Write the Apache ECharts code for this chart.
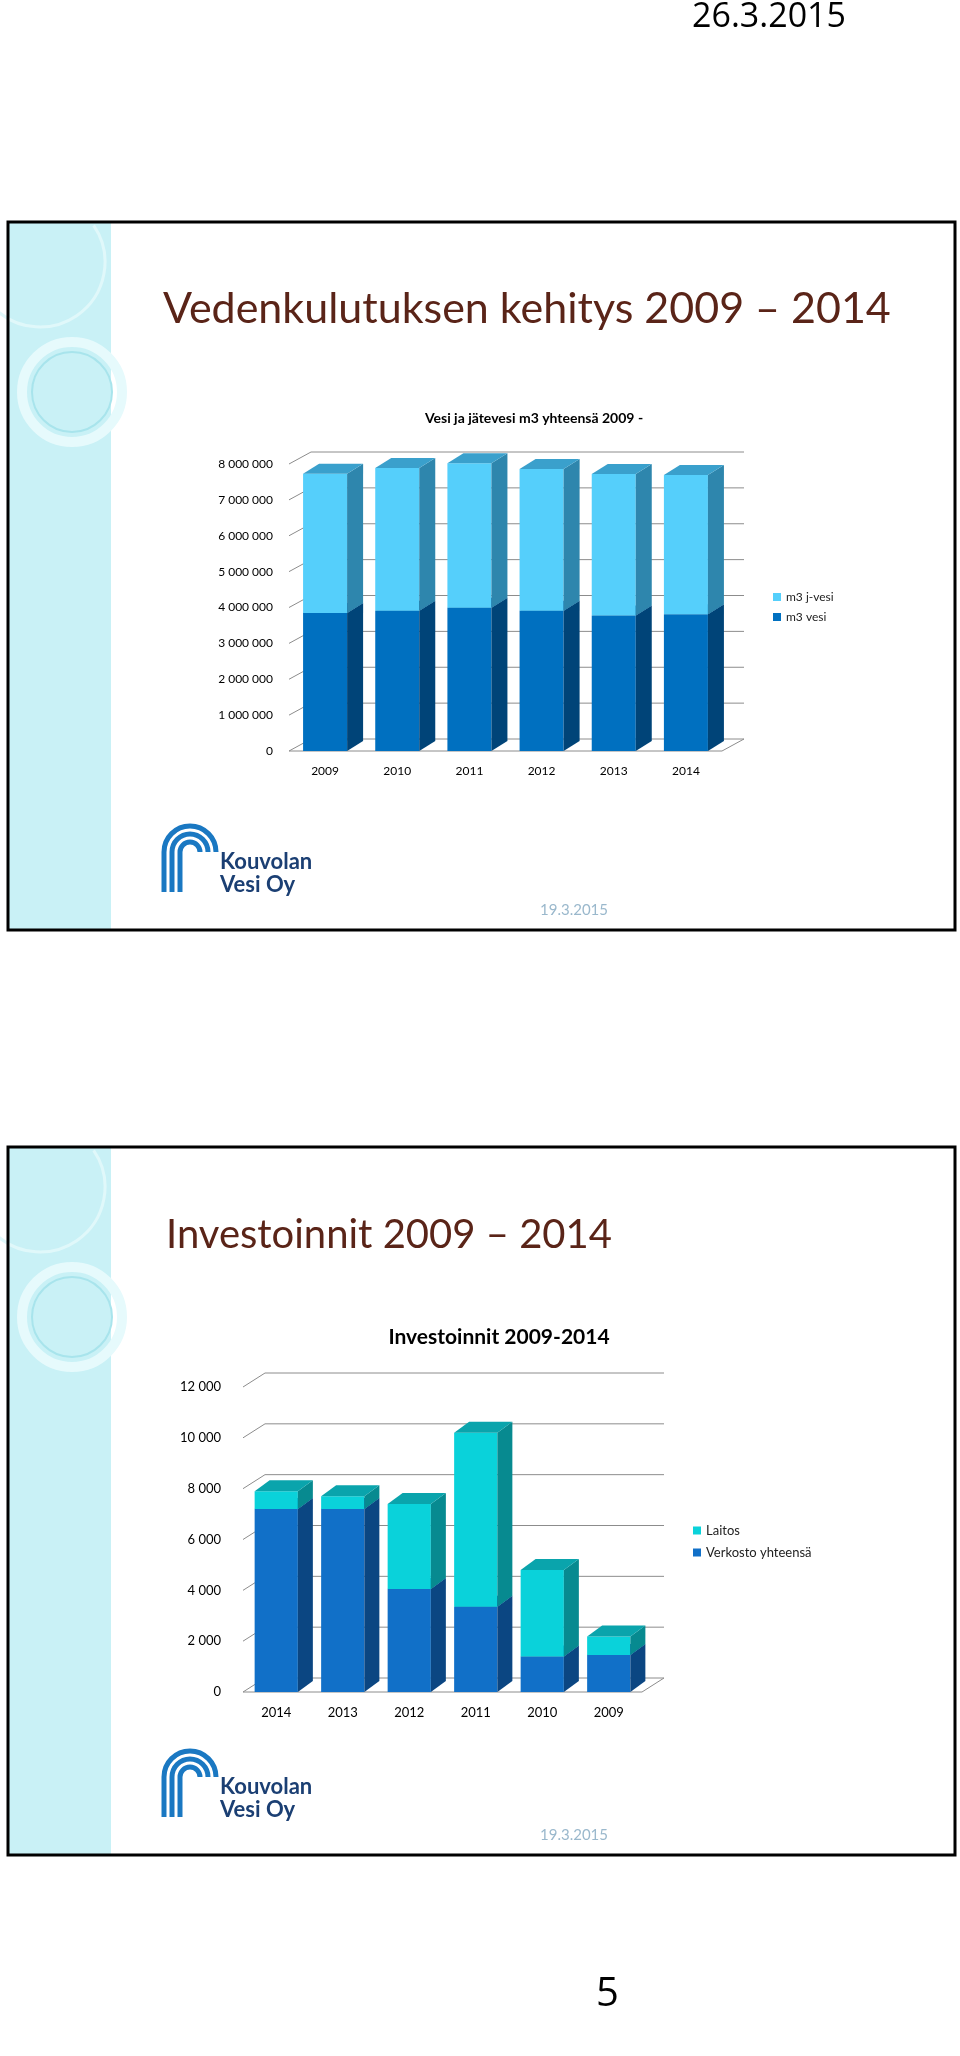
<!DOCTYPE html>
<html><head><meta charset="utf-8">
<script src="https://cdn.jsdelivr.net/npm/echarts@6/dist/echarts.min.js"></script>
<style>html,body{margin:0;padding:0;background:#fff}#c{width:960px;height:2056px}</style>
</head><body><div id="c"></div>
<script>
const years1 = ['2009','2010','2011','2012','2013','2014'];
const vesi = [3850000, 3910000, 3990000, 3910000, 3780000, 3810000];
const jvesi = [3880000, 3980000, 4030000, 3950000, 3940000, 3880000];
const ticks1 = [0,1000000,2000000,3000000,4000000,5000000,6000000,7000000,8000000];

const years2 = ['2014','2013','2012','2011','2010','2009'];
const verkosto = [7200, 7200, 4050, 3350, 1400, 1460];
const laitos = [700, 500, 3350, 6850, 3400, 720];
const ticks2 = [0,2000,4000,6000,8000,10000,12000];

const chart = echarts.init(document.getElementById('c'));
const FONT = 'Lato, "DejaVu Sans", sans-serif';

function stackData(lower, upper){
  const a=[], b=[];
  lower.forEach((v,i)=>{a.push([i,0,v]); b.push([i,v,v+upper[i]]);});
  return [a,b];
}
function bar3d(colors, dx, dy, frac){
  return function(params, api){
    const i=api.value(0), lo=api.value(1), hi=api.value(2);
    const p0=api.coord([i,lo]), p1=api.coord([i,hi]);
    const w=api.size([1,0])[0]*frac;
    const x=p0[0]-w/2, yb=p0[1], yt=p1[1];
    return {type:'group',children:[
      {type:'rect',shape:{x:x,y:yt,width:w,height:yb-yt},style:{fill:colors[0]}},
      {type:'polygon',shape:{points:[[x+w,yt],[x+w+dx,yt-dy],[x+w+dx,yb-dy],[x+w,yb]]},style:{fill:colors[1]}},
      {type:'polygon',shape:{points:[[x,yt],[x+dx,yt-dy],[x+w+dx,yt-dy],[x+w,yt]]},style:{fill:colors[2]}}
    ]};
  };
}
function wall(dx, dy){
  return function(params, api){
    const cs=params.coordSys; const v=api.value(0);
    const y=api.coord([0,v])[1];
    const L=cs.x, R=cs.x+cs.width;
    const ch=[
      {type:'line',shape:{x1:L+dx,y1:y-dy,x2:R+dx,y2:y-dy},style:{stroke:'#8c8c8c',lineWidth:1}},
      {type:'line',shape:{x1:L,y1:y,x2:L+dx,y2:y-dy},style:{stroke:'#8c8c8c',lineWidth:1}}
    ];
    if(v===0){
      ch.push({type:'line',shape:{x1:L,y1:y,x2:R,y2:y},style:{stroke:'#8c8c8c',lineWidth:1}});
      ch.push({type:'line',shape:{x1:R,y1:y,x2:R+dx,y2:y-dy},style:{stroke:'#8c8c8c',lineWidth:1}});
    }
    return {type:'group',children:ch};
  };
}
const fmt = v => String(v).replace(/\B(?=(\d{3})+(?!\d))/g,' ');
const [s1a,s1b]=stackData(vesi,jvesi);
const [s2a,s2b]=stackData(verkosto,laitos);

function slideDecor(top){
  const g=[];
  g.push({type:'rect',shape:{x:8,y:top,width:103,height:708},style:{fill:'#c9f1f6'},z:0});
  g.push({type:'circle',shape:{cx:72,cy:top+170,r:50},style:{fill:'none',stroke:'#e6fafc',lineWidth:10},z:1});
  g.push({type:'circle',shape:{cx:72,cy:top+170,r:40},style:{fill:'none',stroke:'#a8e4ec',lineWidth:2},z:1});
  g.push({type:'arc',shape:{cx:40,cy:top+40,r:65,startAngle:-0.6,endAngle:2.3},style:{fill:'none',stroke:'#e0f8fa',lineWidth:3},z:1});
  g.push({type:'rect',shape:{x:8,y:top,width:947,height:708},style:{fill:'none',stroke:'#000',lineWidth:3},z:5});
  const lx=190, ly=top+640;
  [26,18,10].forEach(r=>g.push({type:'arc',shape:{cx:lx,cy:ly-10,r:r,startAngle:Math.PI,endAngle:2*Math.PI},style:{stroke:'#1a78c2',lineWidth:5,fill:'none'},z:3}));
  [26,18,10].forEach(r=>g.push({type:'line',shape:{x1:lx-r,y1:ly-10,x2:lx-r,y2:ly+30},style:{stroke:'#1a78c2',lineWidth:5},z:3}));
  g.push({type:'text',left:220,top:top+628,style:{text:'Kouvolan\nVesi Oy',font:'bold 22px '+FONT,fill:'#1b3f73',lineHeight:23},z:3});
  g.push({type:'text',left:540,top:top+681,style:{text:'19.3.2015',font:'15px '+FONT,fill:'#9ab8cc'},z:3});
  return g;
}

chart.setOption({
  animation:false,
  textStyle:{fontFamily:FONT},
  title:[
    {text:'Vesi ja jätevesi m3 yhteensä 2009 -',left:529,top:406,textAlign:'center',textStyle:{fontSize:14,fontWeight:'bold',color:'#000',fontFamily:FONT}},
    {text:'Investoinnit 2009-2014',left:494,top:1322,textAlign:'center',textStyle:{fontSize:21,fontWeight:'bold',color:'#000',fontFamily:FONT}}
  ],
  legend:[
    {data:['m3 j-vesi','m3 vesi'],orient:'vertical',left:768,top:586,itemWidth:8,itemHeight:8,itemGap:8,icon:'rect',textStyle:{fontSize:12,color:'#222'}},
    {data:['Laitos','Verkosto yhteensä'],orient:'vertical',left:688,top:1519,itemWidth:8,itemHeight:8,itemGap:9,icon:'rect',textStyle:{fontSize:13,color:'#222'}}
  ],
  grid:[
    {left:289,width:433,top:464,height:287},
    {left:243,width:399,top:1387,height:305}
  ],
  xAxis:[
    {gridIndex:0,type:'category',data:years1,axisLine:{show:false},axisTick:{show:false},axisLabel:{fontSize:12,color:'#000',margin:14}},
    {gridIndex:1,type:'category',data:years2,axisLine:{show:false},axisTick:{show:false},axisLabel:{fontSize:13,color:'#000',margin:14}}
  ],
  yAxis:[
    {gridIndex:0,type:'value',min:0,max:8000000,interval:1000000,splitLine:{show:false},axisLine:{show:false},axisLabel:{fontSize:12,color:'#000',formatter:fmt,margin:16}},
    {gridIndex:1,type:'value',min:0,max:12000,interval:2000,splitLine:{show:false},axisLine:{show:false},axisLabel:{fontSize:13,color:'#000',formatter:fmt,margin:22}}
  ],
  series:[
    {type:'custom',xAxisIndex:0,yAxisIndex:0,data:ticks1.map(v=>[v]),renderItem:wall(22,12),encode:{y:0},silent:true,z:1},
    {type:'custom',name:'m3 vesi',xAxisIndex:0,yAxisIndex:0,data:s1a,encode:{x:0,y:[1,2]},renderItem:bar3d(['#0070c0','#004478','#0a5fa0'],16,10,0.61),itemStyle:{color:'#0070c0'},z:2},
    {type:'custom',name:'m3 j-vesi',xAxisIndex:0,yAxisIndex:0,data:s1b,encode:{x:0,y:[1,2]},renderItem:bar3d(['#55cffb','#2e86ad','#3aa0cc'],16,10,0.61),itemStyle:{color:'#55cffb'},z:3},
    {type:'custom',xAxisIndex:1,yAxisIndex:1,data:ticks2.map(v=>[v]),renderItem:wall(22,14),encode:{y:0},silent:true,z:1},
    {type:'custom',name:'Verkosto yhteensä',xAxisIndex:1,yAxisIndex:1,data:s2a,encode:{x:0,y:[1,2]},renderItem:bar3d(['#1170c8','#0b4682','#0d5aa0'],15,11,0.65),itemStyle:{color:'#1170c8'},z:2},
    {type:'custom',name:'Laitos',xAxisIndex:1,yAxisIndex:1,data:s2b,encode:{x:0,y:[1,2]},renderItem:bar3d(['#0ad2da','#078a90','#0aa4ac'],15,11,0.65),itemStyle:{color:'#0ad2da'},z:3}
  ],
  graphic:[].concat(
    slideDecor(222), slideDecor(1147),
    [
      {type:'text',left:692,top:0,style:{text:'26.3.2015',font:'34px "Open Sans", sans-serif',fill:'#000'}},
      {type:'text',left:163,top:288,style:{text:'Vedenkulutuksen kehitys 2009 – 2014',font:'43px '+FONT,fill:'#5a2418'},z:4},
      {type:'text',left:166,top:1215,style:{text:'Investoinnit 2009 – 2014',font:'40px '+FONT,fill:'#5a2418'},z:4},
      {type:'text',left:596,top:1975,style:{text:'5',font:'40px "Open Sans", sans-serif',fill:'#000'}}
    ]
  )
});
</script></body></html>
